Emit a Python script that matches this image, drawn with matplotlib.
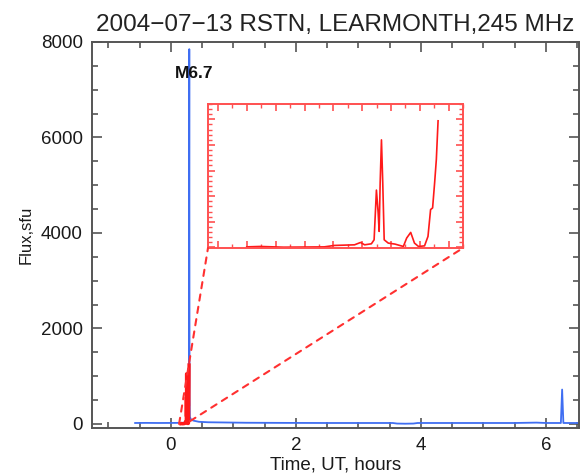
import matplotlib
matplotlib.use("Agg")
import matplotlib.pyplot as plt
from matplotlib.patches import ConnectionPatch
from matplotlib.ticker import MultipleLocator

plt.rcParams['font.family'] = ['Liberation Sans', 'DejaVu Sans']

# Main (blue) light curve, hours UT vs sfu
blue_t = [-0.57, -0.4, -0.2, 0.0, 0.1, 0.2, 0.26, 0.29, 0.296, 0.300, 0.305, 0.32, 0.36,
          0.45, 0.6, 0.9, 1.2, 1.8, 2.5, 3.0, 3.55, 3.62, 3.75, 3.88, 3.95, 4.5, 5.0,
          5.5, 5.85, 6.0, 6.24, 6.26, 6.28, 6.6]
blue_f = [20, 22, 20, 21, 22, 25, 40, 1200, 7850, 600, 150, 100, 70,
          45, 35, 30, 25, 22, 20, 20, 20, 8, 5, 8, 20, 20, 20,
          20, 28, 20, 20, 720, 20, 20]

# Zoomed (red) segment
red_t = [0.1599, 0.1692, 0.1856, 0.2137, 0.2207, 0.2347, 0.2389, 0.2417, 0.2464, 0.2483,
         0.2499, 0.2511, 0.2518, 0.2525, 0.2534, 0.2543, 0.2553, 0.2581, 0.2628, 0.2686,
         0.2709, 0.2737, 0.2763, 0.2791, 0.2833, 0.2857, 0.2875, 0.2889, 0.2903, 0.2915,
         0.2927]
red_f = [6, 10, 3, 6, 20, 26, 49, 26, 36, 75,
         560, 340, 157, 630, 1050, 630, 75, 43, 33, 10,
         92, 147, 43, 10, 16, 108, 370, 386, 630, 860,
         1236]

title = "2004\u221207\u221213 RSTN, LEARMONTH,245 MHz"
flare_label = "M6.7"
xlabel = "Time, UT, hours"
ylabel = "Flux,sfu"

W, H = 580, 474
fig = plt.figure(figsize=(W / 100, H / 100), dpi=100)

def frac(l, t, r, b):
    return [l / W, 1 - b / H, (r - l) / W, (b - t) / H]

ax = fig.add_axes(frac(92, 42, 579, 428))
axc = '#555555'
blue = '#3f6ef2'
red = '#ff1a1a'

ax.plot(blue_t, blue_f, color=blue, lw=1.3, zorder=2)
ax.plot(red_t, red_f, color=red, lw=2.4, zorder=3)

ax.set_xlim(-1.26, 6.53)
ax.set_ylim(-85, 8000)
ax.xaxis.set_major_locator(MultipleLocator(2))
ax.xaxis.set_minor_locator(MultipleLocator(0.5))
ax.yaxis.set_major_locator(MultipleLocator(2000))
ax.yaxis.set_minor_locator(MultipleLocator(500))
ax.tick_params(which='both', direction='in', top=True, right=True, color=axc, width=1.2)
ax.tick_params(which='major', length=7, labelsize=13.5, pad=6.5, labelcolor='#1a1a1a')
ax.tick_params(which='minor', length=4)
for s in ax.spines.values():
    s.set_color(axc)
    s.set_linewidth(1.4)

ax.set_title(title, fontsize=17.5, pad=8, color='#222222')
ax.set_xlabel(xlabel, fontsize=13.5, labelpad=2, color='#1a1a1a')
ax.set_ylabel(ylabel, fontsize=12, labelpad=5, color='#1a1a1a')

ax.text(0.07, 7350, flare_label, fontsize=12.5, fontweight='bold', va='center', ha='left',
        color='#111111')

# Inset
axin = fig.add_axes(frac(208, 104, 463, 248))
axin.plot(red_t, red_f, color=red, lw=1.2)
axin.set_xlim(0.133, 0.31)
axin.set_ylim(-5, 1400)
axin.xaxis.set_major_locator(MultipleLocator(0.02))
axin.xaxis.set_minor_locator(MultipleLocator(0.01))
axin.yaxis.set_major_locator(MultipleLocator(250))
axin.yaxis.set_minor_locator(MultipleLocator(50))
axin.tick_params(which='both', direction='in', top=True, right=True, color='#ff5050',
                 labelbottom=False, labelleft=False)
axin.tick_params(which='major', length=5, width=1.2)
axin.tick_params(which='minor', length=3, width=1.0)
for s in axin.spines.values():
    s.set_color('#ff5050')
    s.set_linewidth(1.4)

for (xa, ya), xb in [((0.133, 0), (0, 0)), ((0.31, 60), (1, 0))]:
    con = ConnectionPatch(xyA=(xa, ya), coordsA='data', axesA=ax,
                          xyB=xb, coordsB='axes fraction', axesB=axin,
                          color='#ff3030', lw=1.5, linestyle=(0, (3, 3)))
    fig.add_artist(con)

fig.savefig('out.png', dpi=100)
